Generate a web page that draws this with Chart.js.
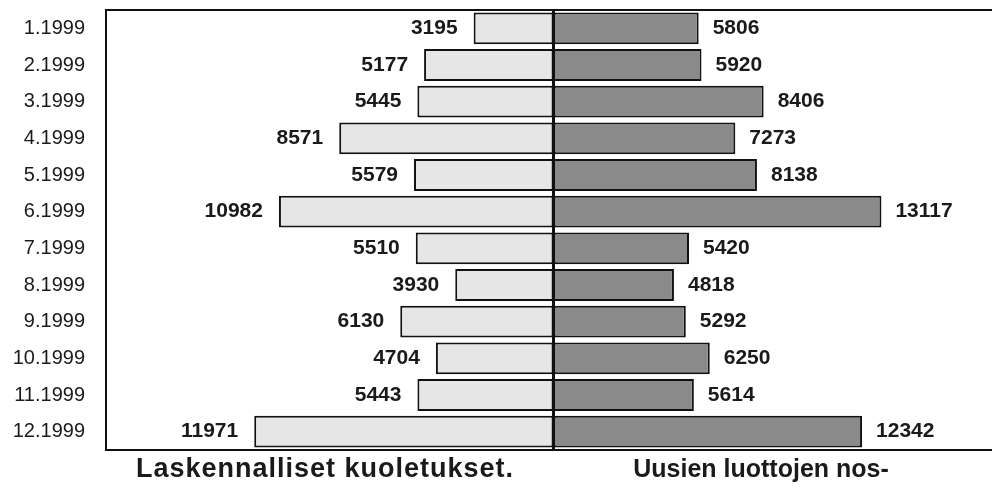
<!DOCTYPE html>
<html>
<head>
<meta charset="utf-8">
<script src="https://cdn.jsdelivr.net/npm/chart.js@4"></script>
<style>
  html, body { margin: 0; padding: 0; background: #fff; }
  #wrap { width: 992px; height: 488px; }
</style>
</head>
<body>
<div id="wrap"><canvas id="barChart"></canvas></div>
<script>
const months = ['1.1999', '2.1999', '3.1999', '4.1999', '5.1999', '6.1999',
                '7.1999', '8.1999', '9.1999', '10.1999', '11.1999', '12.1999'];
const kuoletukset = [3195, 5177, 5445, 8571, 5579, 10982, 5510, 3930, 6130, 4704, 5443, 11971];
const nostot = [5806, 5920, 8406, 7273, 8138, 13117, 5420, 4818, 5292, 6250, 5614, 12342];
const seriesTitles = ['Laskennalliset kuoletukset.', 'Uusien luottojen nos-'];

const FONT = 'Liberation Sans, Arial, Helvetica, sans-serif';

// frame, centre line, value labels and the two captions under the plot
const decorPlugin = {
    id: 'decor',
    afterDatasetsDraw(chart) {
        const ctx = chart.ctx;
        const a = chart.chartArea;
        const x = chart.scales.x;
        ctx.save();
        ctx.strokeStyle = '#111';
        ctx.lineWidth = 2;
        ctx.beginPath();
        ctx.moveTo(chart.width, a.top);
        ctx.lineTo(a.left, a.top);
        ctx.lineTo(a.left, a.bottom);
        ctx.lineTo(chart.width, a.bottom);
        ctx.stroke();
        const cx = x.getPixelForValue(0);
        ctx.lineWidth = 3;
        ctx.beginPath();
        ctx.moveTo(cx, a.top);
        ctx.lineTo(cx, a.bottom);
        ctx.stroke();

        ctx.fillStyle = '#1a1a1a';
        ctx.font = 'bold 21px ' + FONT;
        ctx.textBaseline = 'middle';
        chart.getDatasetMeta(0).data.forEach(function(bar, i) {
            ctx.textAlign = 'right';
            ctx.fillText(String(kuoletukset[i]), bar.x - 16, bar.y);
        });
        chart.getDatasetMeta(1).data.forEach(function(bar, i) {
            ctx.textAlign = 'left';
            ctx.fillText(String(nostot[i]), bar.x + 14, bar.y);
        });

        ctx.textAlign = 'center';
        ctx.font = 'bold 27px ' + FONT;
        ctx.letterSpacing = '1px';
        ctx.fillText(seriesTitles[0], x.getPixelForValue(-9140), a.bottom + 20);
        ctx.letterSpacing = '0px';
        ctx.font = 'bold 25px ' + FONT;
        ctx.fillText(seriesTitles[1], x.getPixelForValue(8300), a.bottom + 20);
        ctx.restore();
    }
};

document.addEventListener('DOMContentLoaded', function() {
    const ctx = document.getElementById('barChart').getContext('2d');

    new Chart(ctx, {
        type: 'bar',
        data: {
            labels: months,
            datasets: [{
                label: seriesTitles[0],
                data: kuoletukset.map(v => -v),
                backgroundColor: '#e6e6e6',
                borderColor: '#111',
                borderWidth: 2,
                borderSkipped: false,
                barPercentage: 0.87,
                categoryPercentage: 1
            }, {
                label: seriesTitles[1],
                data: nostot,
                backgroundColor: '#8a8a8a',
                borderColor: '#111',
                borderWidth: 2,
                borderSkipped: false,
                barPercentage: 0.87,
                categoryPercentage: 1
            }]
        },
        options: {
            indexAxis: 'y',
            responsive: true,
            maintainAspectRatio: false,
            animation: false,
            layout: {
                padding: { top: 10, bottom: 38, left: 0, right: 0 }
            },
            scales: {
                x: {
                    stacked: true,
                    min: -17900,
                    max: 17540,
                    display: false
                },
                y: {
                    stacked: true,
                    afterFit: function(scale) {
                        scale.width = 106;
                        scale.paddingTop = 0;
                        scale.paddingBottom = 0;
                    },
                    grid: { display: false, drawTicks: false },
                    border: { display: false },
                    ticks: {
                        padding: 21,
                        color: '#1a1a1a',
                        font: { family: FONT, size: 20 }
                    }
                }
            },
            plugins: {
                legend: { display: false },
                tooltip: { enabled: false }
            }
        },
        plugins: [decorPlugin]
    });
});
</script>
</body>
</html>
